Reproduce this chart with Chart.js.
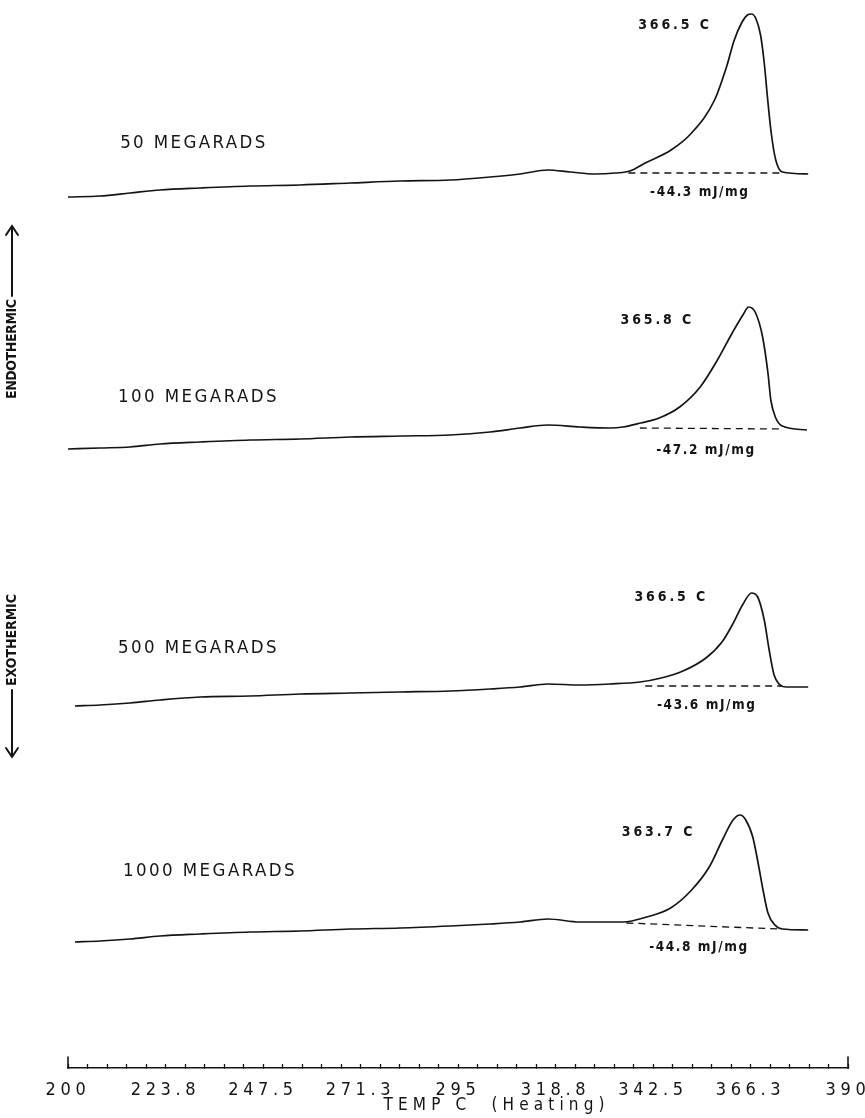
<!DOCTYPE html>
<html>
<head>
<meta charset="utf-8">
<title>DSC heating scans of irradiated samples</title>
<script src="https://cdn.jsdelivr.net/npm/chart.js@4.4.1/dist/chart.umd.min.js"></script>
<style>
  html, body { margin: 0; padding: 0; background: #fff; }
  #plot { display: block; }
</style>
</head>
<body>
<canvas id="plot" width="865" height="1118"></canvas>
<script>
// ---- Temperature axis -------------------------------------------------
const tempMin = 200;
const tempMax = 390;
const tickLabels = ['200', '223.8', '247.5', '271.3', '295', '318.8', '342.5', '366.3', '390'];
const minorStep = 4.75;            // five minor divisions between labelled ticks

// ---- Heat-flow traces (temperature in C, signal relative to each trace's end baseline) ----
const temps50 = [200.0, 207.8, 215.1, 222.4, 232.2, 244.3, 256.5, 268.7, 280.9, 293.1,
                 302.8, 310.1, 316.9, 322.3, 328.4, 333.3, 336.9, 340.6, 346.9, 351.9,
                 357.5, 360.4, 362.3, 364.2, 365.5, 366.5, 367.6, 368.7, 369.6, 370.4,
                 371.3, 372.4, 374.0, 380.3];
const flow50  = [-2.4, -2.3, -2.0, -1.7, -1.5, -1.3, -1.2, -1.0, -0.8, -0.7,
                 -0.4, -0.1, 0.3, 0.1, -0.1, 0.0, 0.2, 1.0, 2.3, 4.0,
                 7.3, 10.6, 13.3, 15.1, 15.8, 15.9, 15.4, 13.8, 11.0, 7.5,
                 4.0, 1.3, 0.1, -0.1];

const temps100 = [200.0, 207.8, 215.1, 222.4, 232.2, 244.3, 256.5, 268.7, 280.9, 293.1,
                  302.8, 310.1, 316.9, 324.7, 332.0, 335.2, 339.5, 344.0, 349.0, 354.0,
                  358.2, 361.8, 364.4, 365.8, 367.5, 369.2, 370.5, 371.2, 372.4, 374.0,
                  380.0];
const flow100  = [-2.0, -1.9, -1.8, -1.5, -1.3, -1.1, -1.0, -0.8, -0.7, -0.6,
                  -0.3, 0.1, 0.4, 0.2, 0.1, 0.2, 0.6, 1.1, 2.2, 4.2,
                  6.9, 9.6, 11.4, 12.2, 11.6, 9.2, 5.6, 2.9, 1.1, 0.3,
                  -0.1];

const temps500 = [201.7, 207.8, 215.1, 222.4, 232.2, 244.3, 256.5, 268.7, 280.9, 293.1,
                  302.8, 310.1, 316.9, 324.7, 332.0, 339.3, 344.5, 349.8, 355.4, 359.3,
                  361.8, 364.3, 366.5, 368.0, 369.6, 370.8, 372.0, 373.2, 375.0, 380.3];
const flow500  = [-2.0, -1.9, -1.7, -1.4, -1.1, -1.0, -0.8, -0.7, -0.6, -0.5,
                  -0.3, -0.1, 0.2, 0.1, 0.2, 0.4, 0.8, 1.5, 2.8, 4.4,
                  6.1, 8.1, 9.3, 8.9, 6.6, 3.6, 1.1, 0.2, -0.1, -0.1];

const temps1000 = [201.7, 207.8, 215.1, 222.4, 232.2, 244.3, 256.5, 268.7, 280.9, 293.1,
                   302.8, 310.1, 316.9, 324.7, 332.0, 335.2, 341.0, 346.8, 351.9, 356.2,
                   359.4, 362.0, 363.7, 365.1, 366.8, 368.1, 369.3, 370.5, 372.2, 374.0,
                   380.3];
const flow1000  = [-1.3, -1.2, -1.0, -0.7, -0.5, -0.3, -0.2, 0.0, 0.1, 0.3,
                   0.5, 0.7, 1.0, 0.7, 0.7, 0.7, 1.2, 2.1, 3.9, 6.2,
                   8.9, 10.9, 11.4, 10.9, 9.2, 6.6, 3.9, 1.6, 0.4, 0.0,
                   -0.1];

// ---- Integration baselines under each melting peak ----
const base50T   = [336.5, 374.0];  const base50V   = [0.0, 0.0];
const base100T  = [339.3, 374.2];  const base100V  = [0.1, 0.0];
const base500T  = [340.6, 373.8];  const base500V  = [0.0, 0.0];
const base1000T = [336.0, 373.2];  const base1000V = [0.6, 0.0];

// ---- Text ----
const sampleNames    = ['50 MEGARADS', '100 MEGARADS', '500 MEGARADS', '1000 MEGARADS'];
const peakLabels     = ['366.5 C', '365.8 C', '366.5 C', '363.7 C'];
const enthalpyLabels = ['-44.3 mJ/mg', '-47.2 mJ/mg', '-43.6 mJ/mg', '-44.8 mJ/mg'];
const axisTitle      = 'TEMP C  (Heating)';

// ---- Layout and style ----
const traceOffsets = [89.5, 63.9, 38.2, 13.9];   // vertical shift of each trace on the plot
const nameAnchor     = [[212.7, 3.0], [212.2, 3.2], [212.2, 3.8], [213.4, 5.8]];
const peakAnchor     = [[347.5, 14.8], [343.2, 10.9], [346.6, 8.9], [343.5, 9.7]];
const enthalpyAnchor = [[353.7, -1.9], [355.2, -2.1], [355.4, -1.9], [353.5, -1.8]];
const INK = '#141414';
const FONT = "'Liberation Sans Narrow', 'DejaVu Sans Condensed', 'Arial Narrow', 'DejaVu Sans', sans-serif";

const traces = [
  { t: temps50,   f: flow50,   bt: base50T,   bv: base50V },
  { t: temps100,  f: flow100,  bt: base100T,  bv: base100V },
  { t: temps500,  f: flow500,  bt: base500T,  bv: base500V },
  { t: temps1000, f: flow1000, bt: base1000T, bv: base1000V }
];

const datasets = [];
traces.forEach((s, k) => {
  datasets.push({
    label: sampleNames[k],
    data: s.t.map((t, i) => ({ x: t, y: traceOffsets[k] + s.f[i] })),
    borderColor: INK, borderWidth: 1.7, pointRadius: 0,
    cubicInterpolationMode: 'monotone', fill: false
  });
  datasets.push({
    label: sampleNames[k] + ' baseline',
    data: s.bt.map((t, i) => ({ x: t, y: traceOffsets[k] + s.bv[i] })),
    borderColor: INK, borderWidth: 1.3, borderDash: [7, 5], pointRadius: 0, fill: false
  });
});

const tickValues = [];
for (let v = tempMin; v <= tempMax + 1e-6; v += minorStep) tickValues.push(+v.toFixed(2));

// Text with an even character pitch, like a pen-plotter lettering
function pitchedText(ctx, text, x, y, o) {
  ctx.font = `${o.weight || 'normal'} ${o.size}px ${FONT}`;
  ctx.letterSpacing = '0px';
  const n = text.length;
  const w0 = ctx.measureText(text).width;
  const target = o.pitch * n;
  ctx.letterSpacing = (n > 1 ? (target - w0) / (n - 1) : 0) + 'px';
  ctx.textAlign = 'left';
  ctx.textBaseline = 'middle';
  ctx.fillText(text, o.align === 'center' ? x - target / 2 : x, y);
  ctx.letterSpacing = '0px';
}

function arrowLine(ctx, x, yFrom, yTip) {
  const d = yTip < yFrom ? 1 : -1;
  ctx.beginPath();
  ctx.moveTo(x, yFrom);
  ctx.lineTo(x, yTip);
  ctx.moveTo(x - 6, yTip + d * 9);
  ctx.lineTo(x, yTip);
  ctx.lineTo(x + 6, yTip + d * 9);
  ctx.stroke();
}

const lettering = {
  id: 'lettering',
  beforeDraw(chart) {
    // spacing used by the axis tick labels
    const ctx = chart.ctx;
    ctx.font = `18px ${FONT}`;
    ctx.letterSpacing = '0px';
    const w = ctx.measureText('223.8').width;
    ctx.letterSpacing = ((65 - w) / 4).toFixed(2) + 'px';
  },
  afterDraw(chart) {
    const ctx = chart.ctx;
    const xs = chart.scales.x, ys = chart.scales.y;
    ctx.save();
    ctx.letterSpacing = '0px';
    ctx.fillStyle = INK;
    ctx.strokeStyle = INK;
    ctx.lineCap = 'round';

    // end brackets of the temperature axis
    ctx.lineWidth = 1.6;
    [tempMin, tempMax].forEach(v => {
      const px = xs.getPixelForValue(v);
      ctx.beginPath();
      ctx.moveTo(px, xs.top);
      ctx.lineTo(px, xs.top - 11);
      ctx.stroke();
    });

    // axis title
    pitchedText(ctx, axisTitle, 494, 1106, { size: 17, pitch: 13, align: 'center' });

    // per-trace labels
    traces.forEach((s, k) => {
      const off = traceOffsets[k];
      pitchedText(ctx, sampleNames[k], xs.getPixelForValue(nameAnchor[k][0]),
                  ys.getPixelForValue(off + nameAnchor[k][1]), { size: 18.5, pitch: 13.2 });
      pitchedText(ctx, peakLabels[k], xs.getPixelForValue(peakAnchor[k][0]),
                  ys.getPixelForValue(off + peakAnchor[k][1]),
                  { size: 14, pitch: 10.1, weight: 'bold', align: 'center' });
      pitchedText(ctx, enthalpyLabels[k], xs.getPixelForValue(enthalpyAnchor[k][0]),
                  ys.getPixelForValue(off + enthalpyAnchor[k][1]),
                  { size: 13.5, pitch: 8.9, weight: 'bold', align: 'center' });
    });

    // heat-flow direction
    ctx.lineWidth = 2;
    ctx.save();
    ctx.translate(12, 349);
    ctx.rotate(-Math.PI / 2);
    pitchedText(ctx, 'ENDOTHERMIC', 0, 0, { size: 14, pitch: 9.1, weight: 'bold', align: 'center' });
    ctx.restore();
    arrowLine(ctx, 12, 296, 226);

    ctx.save();
    ctx.translate(12, 640);
    ctx.rotate(-Math.PI / 2);
    pitchedText(ctx, 'EXOTHERMIC', 0, 0, { size: 14, pitch: 9.2, weight: 'bold', align: 'center' });
    ctx.restore();
    arrowLine(ctx, 12, 690, 757);

    ctx.restore();
  }
};

new Chart(document.getElementById('plot'), {
  type: 'line',
  data: { datasets },
  options: {
    responsive: false,
    animation: false,
    devicePixelRatio: 1,
    events: [],
    layout: { padding: { left: 68, right: 17, top: 0, bottom: 0 } },
    plugins: { legend: { display: false }, tooltip: { enabled: false }, title: { display: false } },
    scales: {
      x: {
        type: 'linear',
        position: 'bottom',
        min: tempMin,
        max: tempMax,
        afterBuildTicks: s => { s.ticks = tickValues.map(value => ({ value })); },
        afterFit: s => { s.height = 50; s.paddingLeft = 0; s.paddingRight = 0; },
        grid: { drawOnChartArea: false, drawTicks: true, tickLength: -4, tickWidth: 1.3, tickColor: INK },
        border: { display: true, color: INK, width: 1.6 },
        ticks: {
          autoSkip: false, maxRotation: 0, minRotation: 0, padding: 16,
          color: INK, font: { family: FONT, size: 18 },
          callback: (v, i) => (i % 5 === 0 ? tickLabels[i / 5] : '')
        }
      },
      y: { display: false, min: 0, max: 106.8 }
    }
  },
  plugins: [lettering]
});
</script>
</body>
</html>
